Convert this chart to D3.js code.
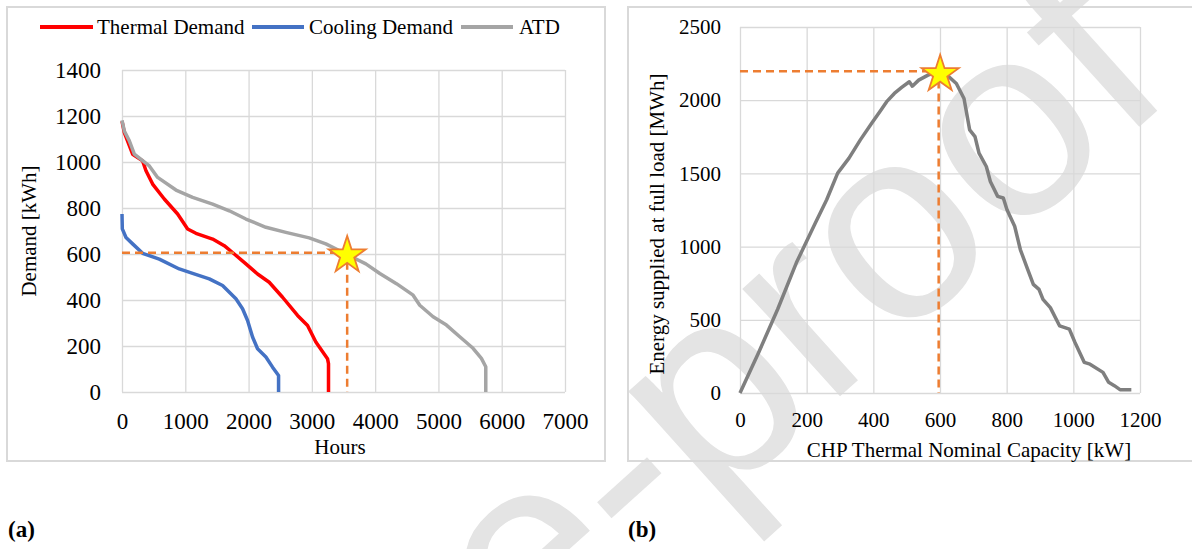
<!DOCTYPE html>
<html lang="en">
<head>
	<meta charset="UTF-8"/>
	<title>Demand duration curves and CHP sizing</title>
	<script src="https://d3js.org/d3.v7.min.js"></script>
	<style>
		body {
			margin: 0;
			background: #fff;
		}
		text {
			font-family: "Liberation Serif", "Times New Roman", serif;
			fill: #000;
		}
		.grid line {
			stroke: #d9d9d9;
			stroke-width: 1.3;
		}
		.grid path {
			display: none;
		}
		.frame {
			fill: none;
			stroke: #d9d9d9;
			stroke-width: 2;
		}
		.curve {
			fill: none;
			stroke-width: 3.5;
			stroke-linejoin: round;
		}
		.guide {
			fill: none;
			stroke: #ed7d31;
			stroke-width: 2.5;
			stroke-dasharray: 8 5;
		}
		.star {
			fill: #ffff00;
			stroke: #ed7d31;
			stroke-width: 1.8;
		}
	</style>
</head>
<body>
	<div id="chart"></div>
	<script>
	// (a) load duration curves, hours vs demand [kWh]
	var thermalHours  = [0, 37, 168, 326, 379, 484, 668, 879, 1037, 1168, 1432, 1616, 1774, 1958, 2142, 2326, 2537, 2774, 2932, 3063, 3247, 3263, 3263];
	var thermalDemand = [1178, 1128, 1034, 1005, 962, 904, 839, 774, 709, 690, 665, 636, 600, 557, 513, 477, 412, 333, 289, 217, 145, 123, 0];

	var coolingHours  = [0, 5, 63, 168, 326, 589, 905, 1116, 1379, 1589, 1800, 1905, 1984, 2063, 2142, 2274, 2379, 2474, 2474];
	var coolingDemand = [774, 709, 672, 644, 603, 578, 535, 516, 492, 463, 405, 362, 311, 239, 188, 152, 108, 72, 0];

	var atdHours  = [0, 37, 116, 195, 432, 563, 853, 1116, 1432, 1695, 1958, 2274, 2589, 2958, 3221, 3432, 3642, 3853, 4074, 4337, 4600, 4705, 4916, 5127, 5337, 5547, 5679, 5748, 5748];
	var atdDemand = [1181, 1135, 1092, 1034, 983, 933, 878, 846, 817, 788, 752, 716, 694, 670, 644, 615, 586, 557, 515, 471, 421, 377, 327, 291, 240, 190, 146, 110, 0];

	var seriesNames = ["Thermal Demand", "Cooling Demand", "ATD"];
	var hourTicks = [0, 1000, 2000, 3000, 4000, 5000, 6000, 7000];
	var demandTicks = [0, 200, 400, 600, 800, 1000, 1200, 1400];
	var pointA = [3558, 605];

	// (b) energy supplied at full load vs CHP capacity
	var capacity = [0, 56, 113, 169, 226, 260, 293, 327, 361, 395, 423, 440, 463, 485, 508, 517, 536, 564, 593, 621, 649, 672, 689, 705, 717, 739, 751, 773, 790, 801, 824, 841, 863, 880, 897, 909, 931, 959, 988, 1005, 1033, 1050, 1089, 1106, 1123, 1140, 1174];
	var energy   = [0, 277, 572, 889, 1162, 1320, 1502, 1604, 1729, 1842, 1933, 1990, 2046, 2087, 2126, 2096, 2137, 2171, 2194, 2171, 2114, 2012, 1797, 1751, 1638, 1547, 1445, 1343, 1332, 1252, 1139, 980, 844, 742, 708, 640, 583, 458, 436, 345, 209, 197, 141, 73, 50, 23, 23];
	var capacityTicks = [0, 200, 400, 600, 800, 1000, 1200];
	var energyTicks = [0, 500, 1000, 1500, 2000, 2500];
	var pointB = [596, 2198];

	var w = 1192;
	var h = 549;
	var serif = "'Liberation Serif', 'Times New Roman', serif";

	var svg = d3.select("#chart")
				.append("svg")
				.attr("width", w)
				.attr("height", h);

	// watermark, behind everything
	svg.append("text")
		.attr("transform", "translate(1178,92) rotate(-42)")
		.attr("text-anchor", "end")
		.style("font-family", "'Liberation Sans', Arial, sans-serif")
		.style("font-size", "275px")
		.style("fill", "#e4e4e4")
		.text("Journal Pre-proof");

	var starSymbol = d3.symbol().type(d3.symbolStar).size(427);

	function styleAxis(g, size) {
		g.attr("font-family", null).attr("font-size", null);
		g.selectAll("text")
			.style("font-family", serif)
			.style("font-size", size + "px")
			.style("fill", "#000");
	}

	// ---------- panel (a) ----------
	svg.append("rect").attr("class", "frame")
		.attr("x", 7).attr("y", 7).attr("width", 598).attr("height", 454);

	var xA = d3.scaleLinear().domain([0, 7000]).range([122, 565]);
	var yA = d3.scaleLinear().domain([0, 1400]).range([392, 70]);

	svg.append("g")
		.attr("class", "grid")
		.attr("transform", "translate(0,392)")
		.call(d3.axisBottom(xA).tickValues(hourTicks).tickFormat(d3.format("d")).tickSize(-322).tickPadding(20.5))
		.call(styleAxis, 23);

	svg.append("g")
		.attr("class", "grid")
		.attr("transform", "translate(122,0)")
		.call(d3.axisLeft(yA).tickValues(demandTicks).tickFormat(d3.format("d")).tickSize(-443).tickPadding(21))
		.call(styleAxis, 23);

	var lineA = d3.line()
				.x(function(d){ return xA(d[0]); })
				.y(function(d){ return yA(d[1]); });

	var seriesA = [
		{ hours: thermalHours, demand: thermalDemand, color: "#ff0000" },
		{ hours: coolingHours, demand: coolingDemand, color: "#4472c4" },
		{ hours: atdHours, demand: atdDemand, color: "#a5a5a5" }
	];

	seriesA.forEach(function(s){
		svg.append("path")
			.attr("class", "curve")
			.attr("d", lineA(s.hours.map(function(v, i){ return [v, s.demand[i]]; })))
			.style("stroke", s.color);
	});

	svg.append("path")
		.attr("class", "guide")
		.attr("d", lineA([[0, pointA[1]], pointA, [pointA[0], 0]]));

	svg.append("path")
		.attr("class", "star")
		.attr("transform", "translate(" + xA(pointA[0]) + "," + (yA(pointA[1]) + 2.5) + ")")
		.attr("d", starSymbol);

	// legend
	var legendX = [[40, 93, 97], [252, 304, 309], [461, 513, 519]];
	seriesNames.forEach(function(name, i){
		svg.append("line")
			.attr("x1", legendX[i][0]).attr("x2", legendX[i][1])
			.attr("y1", 27).attr("y2", 27)
			.style("stroke", seriesA[i].color)
			.style("stroke-width", 4);
		svg.append("text")
			.attr("x", legendX[i][2]).attr("y", 34)
			.style("font-size", "21px")
			.text(name);
	});

	svg.append("text")
		.attr("x", 340).attr("y", 454)
		.attr("text-anchor", "middle")
		.style("font-size", "21px")
		.text("Hours");

	svg.append("text")
		.attr("transform", "translate(36,231) rotate(-90)")
		.attr("text-anchor", "middle")
		.style("font-size", "21px")
		.text("Demand [kWh]");

	// ---------- panel (b) ----------
	svg.append("rect").attr("class", "frame")
		.attr("x", 628).attr("y", 7).attr("width", 570).attr("height", 454);

	var xB = d3.scaleLinear().domain([0, 1200]).range([740, 1140]);
	var yB = d3.scaleLinear().domain([0, 2500]).range([393, 27]);

	svg.append("g")
		.attr("class", "grid")
		.attr("transform", "translate(0,393)")
		.call(d3.axisBottom(xB).tickValues(capacityTicks).tickFormat(d3.format("d")).tickSize(-366).tickPadding(19))
		.call(styleAxis, 21);

	svg.append("g")
		.attr("class", "grid")
		.attr("transform", "translate(740,0)")
		.call(d3.axisLeft(yB).tickValues(energyTicks).tickFormat(d3.format("d")).tickSize(-400).tickPadding(19))
		.call(styleAxis, 21);

	var lineB = d3.line()
				.x(function(d){ return xB(d[0]); })
				.y(function(d){ return yB(d[1]); });

	svg.append("path")
		.attr("class", "curve")
		.attr("d", lineB(capacity.map(function(v, i){ return [v, energy[i]]; })))
		.style("stroke", "#7f7f7f");

	svg.append("path")
		.attr("class", "guide")
		.attr("d", lineB([[0, pointB[1]], pointB, [pointB[0], 0]]));

	svg.append("path")
		.attr("class", "star")
		.attr("transform", "translate(" + (xB(pointB[0]) + 1.5) + "," + (yB(pointB[1]) + 3) + ")")
		.attr("d", starSymbol);

	svg.append("text")
		.attr("x", 969).attr("y", 457)
		.attr("text-anchor", "middle")
		.style("font-size", "21px")
		.text("CHP Thermal Nominal Capacity [kW]");

	svg.append("text")
		.attr("transform", "translate(664,224) rotate(-90)")
		.attr("text-anchor", "middle")
		.style("font-size", "21px")
		.text("Energy supplied at full load [MWh]");

	// panel captions
	svg.append("text").attr("x", 8).attr("y", 537)
		.style("font-size", "23px").style("font-weight", "bold").text("(a)");
	svg.append("text").attr("x", 628).attr("y", 537)
		.style("font-size", "23px").style("font-weight", "bold").text("(b)");
	</script>
</body>
</html>
